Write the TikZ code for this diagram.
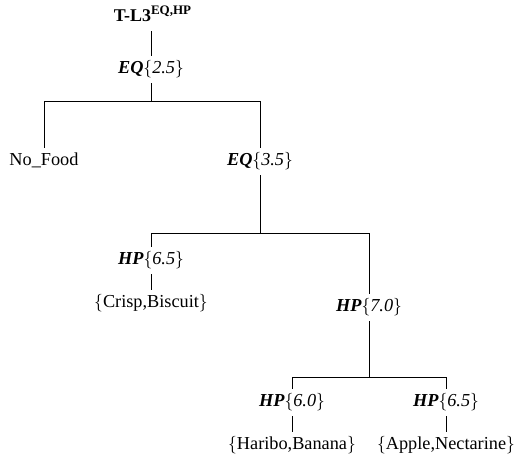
\documentclass[tikz,border=0pt]{standalone}
\usepackage{fontspec}
\setmainfont{Liberation Serif}
\newcommand{\testlab}[2]{\textbf{\textit{#1}}$\{$\textit{#2}$\}$}
\tikzset{
  treenode/.style={anchor=base,inner sep=2pt,text height=8.2pt,text depth=3.1pt,
    font=\fontsize{10.4}{12}\selectfont},
  treeline/.style={draw=black,line width=0.5pt}
}
\begin{document}
\begin{tikzpicture}
    \useasboundingbox (0,0) rectangle (10.36,9.18);
    \node[treenode,font=\fontsize{10.2}{12}\selectfont\bfseries] (root) at (3.05,8.74) {T-L3\raisebox{4.2pt}{\fontsize{7.4}{9}\selectfont EQ,HP}};
    \node[treenode] (eqa) at (3.02,7.70) {\testlab{EQ}{2.5}};
    \node[treenode] (nofood) at (0.88,5.86) {No\_Food};
    \node[treenode] (eqb) at (5.20,5.86) {\testlab{EQ}{3.5}};
    \node[treenode] (hpa) at (3.02,3.88) {\testlab{HP}{6.5}};
    \node[treenode] (crisp) at (3.02,3.02) {$\{$Crisp,Biscuit$\}$};
    \node[treenode] (hpb) at (7.38,2.94) {\testlab{HP}{7.0}};
    \node[treenode] (hpc) at (5.84,1.04) {\testlab{HP}{6.0}};
    \node[treenode] (hpd) at (8.92,1.04) {\testlab{HP}{6.5}};
    \node[treenode] (haribo) at (5.84,0.18) {$\{$Haribo,Banana$\}$};
    \node[treenode] (apple) at (8.92,0.18) {$\{$Apple,Nectarine$\}$};
    \coordinate (forka) at (3.02,7.16);
    \coordinate (forkb) at (5.20,4.52);
    \coordinate (forkc) at (7.38,1.64);
    \draw[treeline] (root.south -| eqa) -- (eqa.north);
    \draw[treeline] (eqa.south) -- (forka) -| (nofood.north);
    \draw[treeline] (forka) -| (eqb.north);
    \draw[treeline] (eqb.south) -- (forkb) -| (hpa.north);
    \draw[treeline] (forkb) -| (hpb.north);
    \draw[treeline] (hpa.south) -- (crisp.north);
    \draw[treeline] (hpb.south) -- (forkc) -| (hpc.north);
    \draw[treeline] (forkc) -| (hpd.north);
    \draw[treeline] (hpc.south) -- (haribo.north);
    \draw[treeline] (hpd.south) -- (apple.north);
  \end{tikzpicture}
\end{document}
